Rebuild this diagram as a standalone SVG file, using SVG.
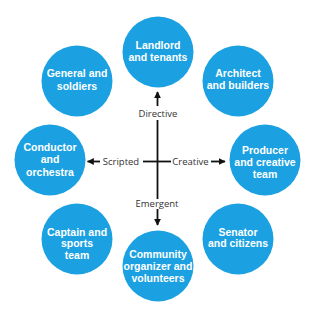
<svg xmlns="http://www.w3.org/2000/svg" width="320" height="316" viewBox="0 0 320 316">
<defs>
<style>
.c{fill:#1ba1e2}
.t{font-family:"Liberation Sans",Arial,sans-serif;font-weight:bold;font-size:10.5px;fill:#fff;text-anchor:middle}
.l{font-family:"Open Sans","Liberation Sans",sans-serif;font-size:9.5px;fill:#333;text-anchor:middle}
.a{stroke:#111;stroke-width:1.8;fill:none}
</style>
<marker id="ah" viewBox="0 0 10 10" refX="9" refY="5" markerWidth="7" markerHeight="7" markerUnits="userSpaceOnUse" orient="auto"><path d="M0,0 L10,5 L0,10 Z" fill="#111"/></marker>
</defs>
<rect width="320" height="316" fill="#fff"/>
<g id="landlord"><circle class="c" cx="158" cy="52" r="35.5"/><text class="t" x="158" y="49">Landlord</text><text class="t" x="158" y="61">and tenants</text></g>
<g id="general"><circle class="c" cx="77" cy="81" r="35.5"/><text class="t" x="77" y="77">General and</text><text class="t" x="77" y="89.5">soldiers</text></g>
<g id="architect"><circle class="c" cx="238" cy="81" r="35.5"/><text class="t" x="238" y="77">Architect</text><text class="t" x="238" y="89">and builders</text></g>
<g id="conductor"><circle class="c" cx="50" cy="160" r="35.5"/><text class="t" x="50" y="150.5">Conductor</text><text class="t" x="50" y="163">and</text><text class="t" x="50" y="175.5">orchestra</text></g>
<g id="producer"><circle class="c" cx="265" cy="160" r="35.5"/><text class="t" x="265" y="153.5">Producer</text><text class="t" x="265" y="165.5">and creative</text><text class="t" x="265" y="177.5">team</text></g>
<g id="captain"><circle class="c" cx="77" cy="239" r="35.5"/><text class="t" x="77" y="235.5">Captain and</text><text class="t" x="77" y="247">sports</text><text class="t" x="77" y="258.5">team</text></g>
<g id="community"><circle class="c" cx="158" cy="266" r="35.5"/><text class="t" x="158" y="257.5">Community</text><text class="t" x="158" y="269.5">organizer and</text><text class="t" x="158" y="281.5">volunteers</text></g>
<g id="senator"><circle class="c" cx="238" cy="239" r="35.5"/><text class="t" x="238" y="235.5">Senator</text><text class="t" x="238" y="247">and citizens</text></g>
<g id="connectors">
<line class="a" x1="157.5" y1="120" x2="157.5" y2="199"/>
<line class="a" x1="143" y1="161.5" x2="171" y2="161.5"/>
<line class="a" x1="157.5" y1="106" x2="157.5" y2="92" marker-end="url(#ah)"/>
<line class="a" x1="157.5" y1="209" x2="157.5" y2="225" marker-end="url(#ah)"/>
<line class="a" x1="100" y1="161.5" x2="87.5" y2="161.5" marker-end="url(#ah)"/>
<line class="a" x1="211" y1="161.5" x2="225" y2="161.5" marker-end="url(#ah)"/>
<text class="l" x="158" y="116.5">Directive</text>
<text class="l" x="121" y="165">Scripted</text>
<text class="l" x="190.5" y="165">Creative</text>
<text class="l" x="157" y="206.5">Emergent</text>
</g>
</svg>
